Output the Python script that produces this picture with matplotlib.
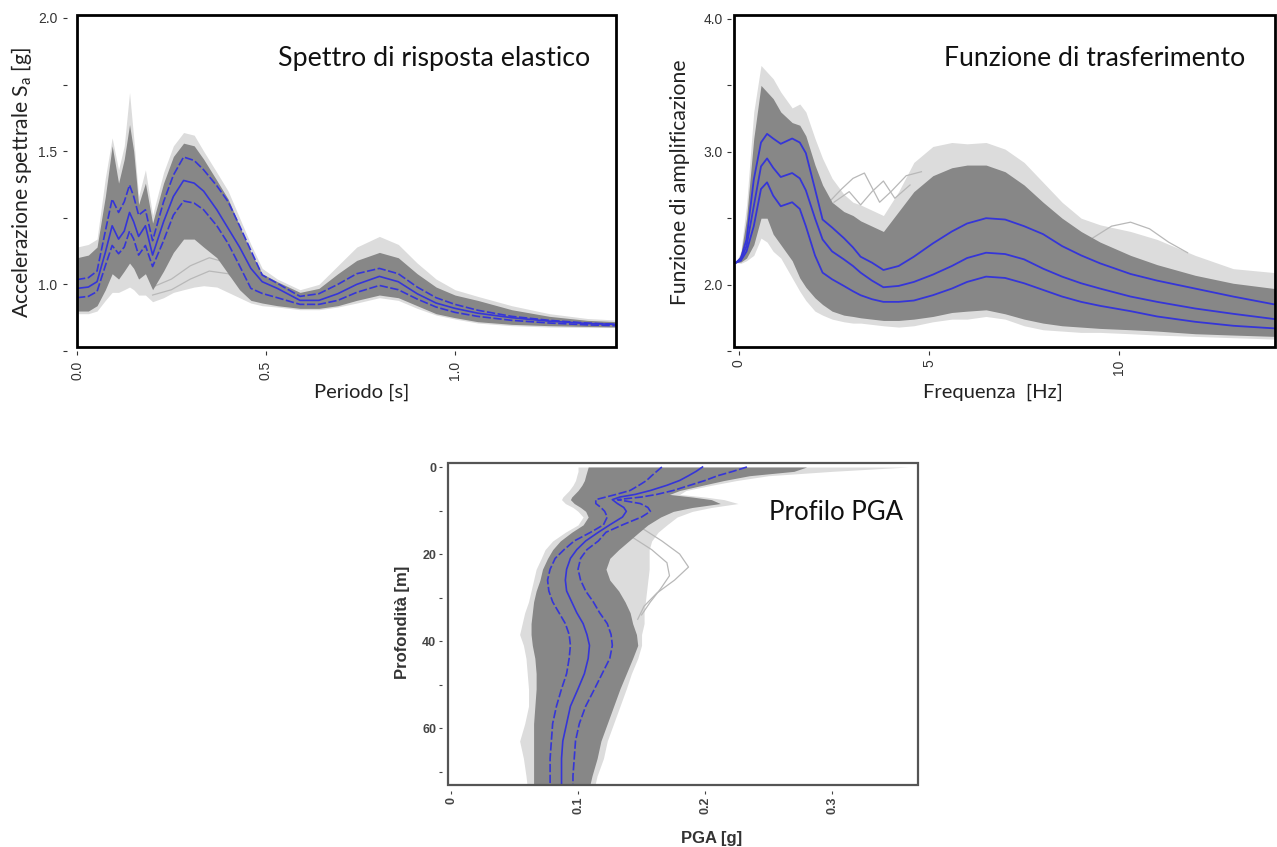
import numpy as np
import matplotlib.pyplot as plt
from matplotlib.patches import Rectangle

plt.rcParams['font.family'] = ['Lato', 'DejaVu Sans']
plt.rcParams['mathtext.fontset'] = 'custom'
plt.rcParams['mathtext.rm'] = 'Lato'

W, H = 1277, 847
GRIGIO = '#878787'
GRIGIO_CHIARO = '#dcdcdc'
GRIGIO_LINEA = '#b8b8b8'
BLU = '#3535d8'

# --- Spettro di risposta elastico (periodo [s] -> Sa [g]) ---
periodo = [0.0, 0.03, 0.053, 0.075, 0.093, 0.11, 0.125, 0.139, 0.15, 0.163,
           0.181, 0.2, 0.229, 0.255, 0.282, 0.31, 0.335, 0.37, 0.4, 0.43,
           0.46, 0.49, 0.53, 0.59, 0.64, 0.69, 0.74, 0.8, 0.85, 0.9,
           0.95, 1.0, 1.06, 1.15, 1.25, 1.35, 1.43]
sa_p84 = [1.018, 1.025, 1.05, 1.2, 1.32, 1.27, 1.31, 1.373, 1.33, 1.26,
          1.28, 1.164, 1.31, 1.41, 1.478, 1.465, 1.43, 1.37, 1.31, 1.22,
          1.127, 1.035, 1.004, 0.955, 0.965, 1.0, 1.04, 1.06, 1.04, 0.99,
          0.95, 0.925, 0.903, 0.88, 0.865, 0.855, 0.85]
sa_p50 = [0.985, 0.99, 1.01, 1.12, 1.22, 1.17, 1.2, 1.27, 1.235, 1.18,
          1.22, 1.11, 1.235, 1.33, 1.39, 1.38, 1.35, 1.28, 1.21, 1.14,
          1.06, 1.01, 0.985, 0.94, 0.94, 0.965, 1.0, 1.03, 1.01, 0.965,
          0.93, 0.91, 0.892, 0.875, 0.862, 0.853, 0.85]
sa_p16 = [0.95, 0.955, 0.973, 1.07, 1.146, 1.115, 1.14, 1.2, 1.17, 1.11,
          1.146, 1.067, 1.164, 1.26, 1.313, 1.305, 1.28, 1.22, 1.153, 1.07,
          0.985, 0.966, 0.95, 0.925, 0.925, 0.94, 0.97, 0.996, 0.98, 0.945,
          0.915, 0.895, 0.88, 0.865, 0.855, 0.848, 0.845]
sa_max = [1.14, 1.15, 1.17, 1.40, 1.55, 1.43, 1.52, 1.72, 1.55, 1.33,
          1.43, 1.26, 1.42, 1.52, 1.57, 1.56, 1.50, 1.42, 1.35, 1.25,
          1.15, 1.06, 1.02, 0.98, 1.0, 1.07, 1.14, 1.18, 1.15, 1.08,
          1.02, 0.98, 0.955, 0.92, 0.89, 0.872, 0.866]
sa_alto = [1.10, 1.11, 1.14, 1.33, 1.52, 1.38, 1.47, 1.60, 1.5, 1.30,
           1.38, 1.23, 1.38, 1.48, 1.53, 1.52, 1.47, 1.39, 1.32, 1.22,
           1.12, 1.04, 1.01, 0.97, 0.985, 1.04, 1.09, 1.12, 1.10, 1.04,
           0.99, 0.96, 0.94, 0.905, 0.88, 0.865, 0.86]
sa_basso = [0.90, 0.90, 0.92, 0.98, 1.04, 1.02, 1.05, 1.08, 1.06, 1.02,
            1.04, 0.98, 1.05, 1.12, 1.17, 1.17, 1.14, 1.10, 1.04, 0.98,
            0.94, 0.93, 0.92, 0.91, 0.91, 0.92, 0.94, 0.96, 0.95, 0.92,
            0.89, 0.875, 0.86, 0.85, 0.845, 0.842, 0.84]
sa_min = [0.89, 0.89, 0.90, 0.94, 0.97, 0.97, 0.98, 0.99, 0.98, 0.96,
          0.96, 0.935, 0.95, 0.97, 0.98, 0.99, 0.995, 0.99, 0.97, 0.95,
          0.93, 0.92, 0.915, 0.905, 0.905, 0.915, 0.93, 0.95, 0.94, 0.91,
          0.885, 0.87, 0.855, 0.845, 0.84, 0.838, 0.838]
# alcune curve isolate sotto il fascio
periodo_iso = [0.2, 0.25, 0.3, 0.35, 0.4, 0.45, 0.5]
sa_iso1 = [0.99, 1.02, 1.07, 1.10, 1.08, 1.01, 0.95]
sa_iso2 = [0.96, 0.98, 1.02, 1.05, 1.04, 0.98, 0.93]

# --- Funzione di trasferimento (frequenza [Hz] -> amplificazione) ---
freq = [-0.08, 0.05, 0.2, 0.39, 0.58, 0.74, 0.9, 1.1, 1.4, 1.6,
        1.76, 2.0, 2.2, 2.45, 2.76, 3.0, 3.2, 3.5, 3.8, 4.2,
        4.6, 5.1, 5.6, 6.0, 6.5, 7.0, 7.5, 8.0, 8.5, 9.0,
        9.5, 10.3, 11.0, 12.0, 13.0, 14.1]
fa_p84 = [2.165, 2.2, 2.34, 2.79, 3.07, 3.135, 3.1, 3.06, 3.1, 3.07,
          2.99, 2.72, 2.49, 2.43, 2.35, 2.28, 2.21, 2.165, 2.11, 2.14,
          2.21, 2.31, 2.40, 2.46, 2.50, 2.49, 2.44, 2.38, 2.29, 2.22,
          2.16, 2.08, 2.03, 1.97, 1.91, 1.85]
fa_p50 = [2.165, 2.19, 2.29, 2.59, 2.89, 2.95, 2.88, 2.81, 2.84, 2.8,
          2.71, 2.5, 2.34, 2.25, 2.19, 2.14, 2.09, 2.03, 1.98, 1.99,
          2.02, 2.075, 2.14, 2.2, 2.24, 2.23, 2.19, 2.12, 2.06, 2.01,
          1.97, 1.91, 1.87, 1.82, 1.78, 1.74]
fa_p16 = [2.165, 2.18, 2.25, 2.44, 2.72, 2.77, 2.67, 2.59, 2.62, 2.57,
          2.44, 2.22, 2.09, 2.04, 1.99, 1.95, 1.92, 1.89, 1.87, 1.87,
          1.88, 1.92, 1.97, 2.02, 2.06, 2.05, 2.01, 1.96, 1.91, 1.87,
          1.84, 1.8, 1.76, 1.72, 1.69, 1.67]
fa_max = [2.165, 2.25, 2.6, 3.3, 3.65, 3.6, 3.55, 3.45, 3.33, 3.36,
          3.3, 3.1, 2.95, 2.8, 2.68, 2.62, 2.6, 2.56, 2.52, 2.7,
          2.92, 3.04, 3.07, 3.06, 3.07, 3.02, 2.92, 2.77, 2.62, 2.5,
          2.45, 2.4, 2.34, 2.22, 2.12, 2.09]
fa_alto = [2.165, 2.23, 2.5, 3.1, 3.5, 3.45, 3.4, 3.3, 3.22, 3.2,
           3.12, 2.9, 2.75, 2.62, 2.55, 2.52, 2.48, 2.44, 2.4, 2.55,
           2.7, 2.82, 2.88, 2.9, 2.9, 2.85, 2.75, 2.62, 2.5, 2.4,
           2.32, 2.22, 2.15, 2.07, 2.01, 1.97]
fa_basso = [2.165, 2.17, 2.2, 2.3, 2.5, 2.5, 2.38, 2.3, 2.18, 2.05,
            1.98, 1.9, 1.85, 1.8, 1.77, 1.76, 1.75, 1.74, 1.73, 1.73,
            1.74, 1.76, 1.79, 1.8, 1.81, 1.78, 1.74, 1.71, 1.69, 1.68,
            1.67, 1.66, 1.65, 1.63, 1.62, 1.61]
fa_min = [2.165, 2.16, 2.18, 2.22, 2.35, 2.32, 2.25, 2.2, 2.05, 1.95,
          1.88, 1.8, 1.77, 1.74, 1.72, 1.71, 1.71, 1.7, 1.69, 1.68,
          1.69, 1.72, 1.74, 1.74, 1.76, 1.74, 1.69, 1.66, 1.65, 1.64,
          1.64, 1.63, 1.62, 1.61, 1.6, 1.59]
# curve isolate sopra il fascio
freq_iso1 = [2.3, 2.7, 3.0, 3.3, 3.7, 4.0, 4.4, 4.8]
fa_iso1 = [2.6, 2.72, 2.8, 2.84, 2.62, 2.7, 2.82, 2.85]
freq_iso2 = [2.5, 2.9, 3.2, 3.5, 3.8, 4.1, 4.5]
fa_iso2 = [2.62, 2.7, 2.6, 2.7, 2.78, 2.65, 2.75]
freq_iso3 = [9.3, 9.8, 10.3, 10.8, 11.3, 11.8]
fa_iso3 = [2.35, 2.44, 2.47, 2.42, 2.32, 2.24]

# --- Profilo PGA (profondita [m] -> PGA [g]) ---
prof = [0, 1, 2, 3.1, 4.2, 5.4, 6.3, 6.9, 7.5, 8.4,
        9.3, 10.2, 11.5, 13.3, 15.0, 17.0, 19.0, 21.0, 23.5, 26,
        28.5, 31, 33.5, 36, 38.5, 41, 44, 47.5, 51, 55,
        59, 63, 67, 71, 73.5]
pga_p50 = [0.198, 0.193, 0.187, 0.180, 0.170, 0.157, 0.145, 0.133, 0.127, 0.131,
           0.136, 0.138, 0.135, 0.125, 0.116, 0.106, 0.099, 0.094, 0.091, 0.090,
           0.091, 0.095, 0.099, 0.104, 0.107, 0.109, 0.108, 0.105, 0.100, 0.094,
           0.091, 0.088, 0.087, 0.087, 0.087]
pga_p16 = [0.166, 0.162, 0.158, 0.154, 0.148, 0.141, 0.130, 0.122, 0.114, 0.114,
           0.118, 0.121, 0.123, 0.120, 0.110, 0.097, 0.089, 0.082, 0.078, 0.076,
           0.077, 0.080, 0.085, 0.090, 0.093, 0.094, 0.093, 0.091, 0.087, 0.083,
           0.080, 0.079, 0.078, 0.078, 0.078]
pga_p84 = [0.233, 0.222, 0.210, 0.200, 0.188, 0.175, 0.162, 0.150, 0.131, 0.149,
           0.155, 0.157, 0.150, 0.135, 0.122, 0.116, 0.107, 0.102, 0.100, 0.102,
           0.106, 0.112, 0.117, 0.123, 0.126, 0.127, 0.125, 0.119, 0.113, 0.106,
           0.101, 0.098, 0.097, 0.096, 0.096]
pga_min = [0.100, 0.100, 0.099, 0.098, 0.096, 0.093, 0.090, 0.088, 0.087, 0.090,
           0.096, 0.100, 0.104, 0.100, 0.090, 0.080, 0.074, 0.071, 0.067, 0.065,
           0.063, 0.061, 0.058, 0.056, 0.054, 0.057, 0.059, 0.060, 0.061, 0.061,
           0.058, 0.054, 0.057, 0.059, 0.060]
pga_sx = [0.108, 0.107, 0.106, 0.105, 0.103, 0.100, 0.097, 0.095, 0.094, 0.097,
          0.102, 0.106, 0.108, 0.104, 0.095, 0.086, 0.080, 0.076, 0.072, 0.070,
          0.067, 0.065, 0.064, 0.063, 0.063, 0.064, 0.066, 0.067, 0.067, 0.066,
          0.065, 0.065, 0.065, 0.065, 0.065]
pga_dx = [0.28, 0.27, 0.235, 0.215, 0.198, 0.18, 0.172, 0.19, 0.205, 0.212,
          0.19, 0.175, 0.165, 0.155, 0.148, 0.14, 0.132, 0.125, 0.122, 0.125,
          0.132, 0.137, 0.141, 0.143, 0.146, 0.147, 0.143, 0.138, 0.133, 0.128,
          0.123, 0.118, 0.115, 0.111, 0.109]
pga_max = [0.36, 0.30, 0.25, 0.225, 0.205, 0.185, 0.18, 0.2, 0.215, 0.226,
           0.205, 0.19, 0.178, 0.17, 0.163, 0.158, 0.156, 0.156, 0.156, 0.155,
           0.154, 0.153, 0.152, 0.152, 0.15, 0.15, 0.147, 0.142, 0.138, 0.133,
           0.128, 0.123, 0.12, 0.115, 0.113]
# anse isolate sulla destra tra 15 e 35 m
prof_iso1 = [14, 17, 20, 23, 26, 29, 32, 35]
pga_iso1 = [0.15, 0.166, 0.18, 0.187, 0.176, 0.162, 0.152, 0.147]
prof_iso2 = [16, 19, 22, 25, 28, 31, 34]
pga_iso2 = [0.142, 0.158, 0.17, 0.172, 0.165, 0.157, 0.15]


def cornice(ax, y0=0.0, colore='black', lw=2.0):
    # riquadro disegnato a parte, cosi le tacche restano staccate
    for s in ax.spines.values():
        s.set_color('none')
    ax.add_patch(Rectangle((0, y0), 1, 1 - y0, transform=ax.transAxes,
                           fill=False, ec=colore, lw=lw, clip_on=False, zorder=10))


fig = plt.figure(figsize=(W / 100, H / 100), dpi=100)

# pannello 1
ax1 = fig.add_axes([77 / W, (H - 351) / H, 539 / W, 336 / H])
ax1.fill_between(periodo, sa_min, sa_max, color=GRIGIO_CHIARO, lw=0, zorder=1)
ax1.plot(periodo_iso, sa_iso1, color=GRIGIO_LINEA, lw=0.9, zorder=2)
ax1.plot(periodo_iso, sa_iso2, color=GRIGIO_LINEA, lw=0.9, zorder=2)
ax1.fill_between(periodo, sa_basso, sa_alto, color=GRIGIO, lw=0, zorder=3)
ax1.plot(periodo, sa_p84, color=BLU, lw=1.2, ls=(0, (5, 1.5)), zorder=4)
ax1.plot(periodo, sa_p50, color=BLU, lw=1.2, zorder=4)
ax1.plot(periodo, sa_p16, color=BLU, lw=1.2, ls=(0, (5, 1.5)), zorder=4)
ax1.set_xlim(0, 1.426)
ax1.set_ylim(0.757, 2.011)
cornice(ax1, y0=4 / 336)
ax1.spines['left'].set_position(('outward', 7))
ax1.set_yticks([0.75, 1.0, 1.25, 1.5, 1.75, 2.0])
ax1.set_yticklabels(['', '1.0', '', '1.5', '', '2.0'])
ax1.set_xticks([0.0, 0.5, 1.0])
ax1.set_xticklabels(['0.0', '0.5', '1.0'])
ax1.tick_params(length=3, width=0.8, color='#333333', pad=4, labelsize=10,
                labelcolor='#333333')
ax1.tick_params(axis='x', labelrotation=90)
for t in ax1.get_xticklabels() + ax1.get_yticklabels():
    t.set_fontfamily('Liberation Sans')
ax1.text(0.952, 0.872, 'Spettro di risposta elastico', transform=ax1.transAxes,
         ha='right', va='center', fontsize=19.3, color='#111111')

# pannello 2
ax2 = fig.add_axes([734 / W, (H - 351) / H, 541 / W, 336 / H])
ax2.fill_between(freq, fa_min, fa_max, color=GRIGIO_CHIARO, lw=0, zorder=1)
for fx, fy in ((freq_iso1, fa_iso1), (freq_iso2, fa_iso2), (freq_iso3, fa_iso3)):
    ax2.plot(fx, fy, color=GRIGIO_LINEA, lw=0.9, zorder=2)
ax2.fill_between(freq, fa_basso, fa_alto, color=GRIGIO, lw=0, zorder=3)
for serie in (fa_p84, fa_p50, fa_p16):
    ax2.plot(freq, serie, color=BLU, lw=1.3, zorder=4)
ax2.set_xlim(-0.13, 14.1)
ax2.set_ylim(1.504, 4.03)
cornice(ax2, y0=4 / 336)
ax2.spines['left'].set_position(('outward', 2))
ax2.set_yticks([1.5, 2.0, 2.5, 3.0, 3.5, 4.0])
ax2.set_yticklabels(['', '2.0', '', '3.0', '', '4.0'])
ax2.set_xticks([0, 5, 10])
ax2.set_xticklabels(['0', '5', '10'])
ax2.tick_params(length=3, width=0.8, color='#333333', pad=3, labelsize=10,
                labelcolor='#333333')
ax2.tick_params(axis='x', labelrotation=90)
for t in ax2.get_xticklabels() + ax2.get_yticklabels():
    t.set_fontfamily('Liberation Sans')
ax2.text(0.9445, 0.872, 'Funzione di trasferimento', transform=ax2.transAxes,
         ha='right', va='center', fontsize=19.2, color='#111111')

# pannello 3
ax3 = fig.add_axes([448 / W, (H - 785) / H, 470 / W, 322 / H])
ax3.fill_betweenx(prof, pga_min, pga_max, color=GRIGIO_CHIARO, lw=0, zorder=1)
ax3.plot(pga_iso1, prof_iso1, color=GRIGIO_LINEA, lw=0.9, zorder=2)
ax3.plot(pga_iso2, prof_iso2, color=GRIGIO_LINEA, lw=0.9, zorder=2)
ax3.fill_betweenx(prof, pga_sx, pga_dx, color=GRIGIO, lw=0, zorder=3)
ax3.plot(pga_p16, prof, color=BLU, lw=1.2, ls=(0, (5, 1.5)), zorder=4)
ax3.plot(pga_p50, prof, color=BLU, lw=1.2, zorder=4)
ax3.plot(pga_p84, prof, color=BLU, lw=1.2, ls=(0, (5, 1.5)), zorder=4)
ax3.set_xlim(-0.0024, 0.3677)
ax3.set_ylim(73.1, -0.92)
cornice(ax3, colore='#555555', lw=1.6)
ax3.spines['left'].set_position(('outward', 4))
ax3.spines['bottom'].set_position(('outward', 4))
ax3.set_yticks(np.arange(0, 71, 10))
ax3.set_yticklabels(['0', '', '20', '', '40', '', '60', ''])
ax3.set_xticks([0, 0.1, 0.2, 0.3])
ax3.set_xticklabels(['0', '0.1', '0.2', '0.3'])
ax3.tick_params(length=2.5, width=0.8, color='#444444', pad=2, labelsize=9,
                labelcolor='#444444')
ax3.tick_params(axis='x', labelrotation=90)
for t in ax3.get_xticklabels() + ax3.get_yticklabels():
    t.set_fontfamily('Liberation Sans')
    t.set_fontweight('bold')
ax3.text(0.968, 0.845, 'Profilo PGA', transform=ax3.transAxes,
         ha='right', va='center', fontsize=18.5, color='#111111')

# etichette degli assi
fig.text(22 / W, 1 - 182 / H, r'Accelerazione spettrale S$_{\mathregular{a}}$ [g]',
         rotation=90, ha='center', va='center', fontsize=15.2, color='#222222')
fig.text(362 / W, 1 - 392 / H, 'Periodo [s]', ha='center', va='center',
         fontsize=14.5, color='#222222')
fig.text(680 / W, 1 - 182 / H, 'Funzione di amplificazione', rotation=90,
         ha='center', va='center', fontsize=15.2, color='#222222')
fig.text(993 / W, 1 - 392 / H, 'Frequenza  [Hz]', ha='center', va='center',
         fontsize=14.5, color='#222222')
fig.text(402 / W, 1 - 622 / H, 'Profondità [m]', rotation=90, ha='center',
         va='center', fontsize=12, fontweight='bold', color='#333333',
         family='Liberation Sans')
fig.text(712 / W, 1 - 838 / H, 'PGA [g]', ha='center', va='center', fontsize=12,
         fontweight='bold', color='#333333', family='Liberation Sans')

fig.savefig('out.png', dpi=100)
